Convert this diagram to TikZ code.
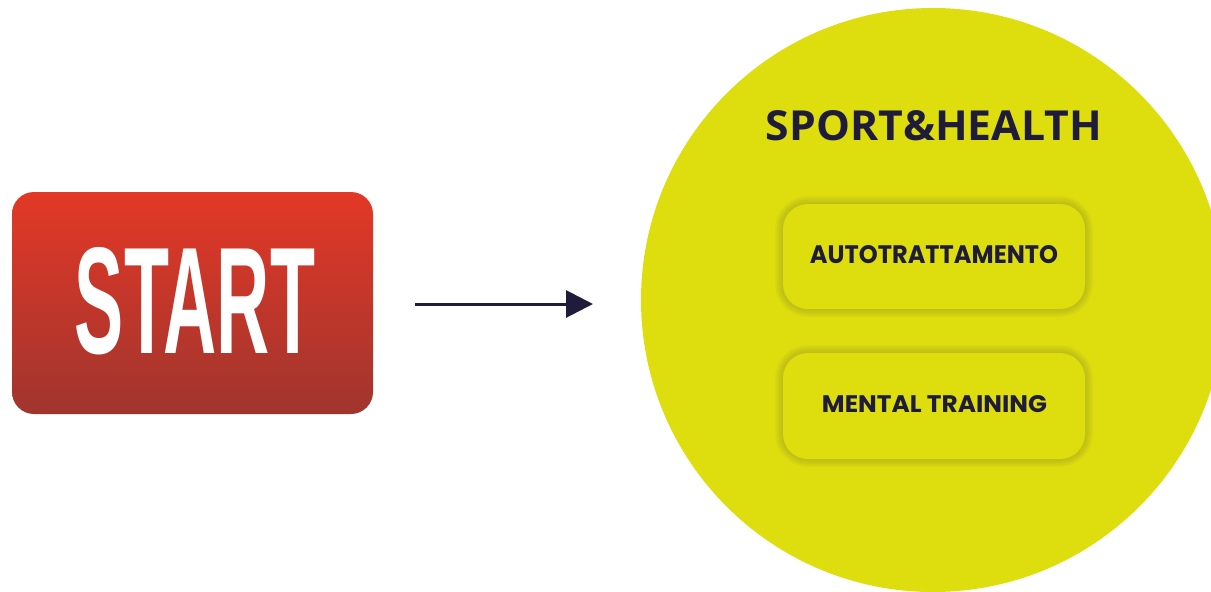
\documentclass[tikz,border=0pt]{standalone}
\usepackage{fontspec}
\setmainfont{Liberation Sans}
\newfontfamily\startfont{Liberation Sans}
\newfontfamily\titlefont{Open Sans}
\newfontfamily\boxfont{Poppins}
\usetikzlibrary{arrows.meta}
\definecolor{startTop}{RGB}{227,56,38}
\definecolor{startBot}{RGB}{160,53,46}
\definecolor{lime}{RGB}{222,221,14}
\definecolor{glowc}{RGB}{150,150,45}
\definecolor{navy}{RGB}{30,27,59}
\tikzset{
  startbox/.style={rectangle, rounded corners=22pt, minimum width=361pt, minimum height=222pt,
    inner sep=0pt, top color=startTop, bottom color=startBot, draw=none},
  bigcircle/.style={circle, fill=lime, minimum size=584pt, inner sep=0pt},
  innerbox/.style={rectangle, rounded corners=25pt, minimum width=302pt, minimum height=105pt,
    inner sep=0pt, fill=lime},
  glow/.style={draw=glowc, opacity=0.06, rounded corners=25pt},
  txt/.style={anchor=base, inner sep=0pt},
  conn/.style={draw=navy, line width=3pt, -{Triangle[length=27pt,width=27pt]}}
}
\begin{document}
\begin{tikzpicture}[x=1pt,y=-1pt]
\useasboundingbox (0,0) rectangle (1211,592);
\fill[white] (0,0) rectangle (1211,592);
\node[startbox] (start) at (192.5,303) {};
\node[txt, text=white] (starttxt) at (195,353) {\resizebox{240pt}{106pt}{\startfont\bfseries START}};
\node[bigcircle] (sh) at (933,300) {};
\node[txt, text=navy] (title) at (934,140) {\resizebox{336pt}{30pt}{\titlefont\bfseries SPORT\&HEALTH}};
\foreach \w in {2,4,...,16} {
  \draw[glow, line width=\w pt] (783,204) rectangle (1085,309);
  \draw[glow, line width=\w pt] (783,353) rectangle (1085,459);
}
\node[innerbox] (auto) at (934,256.5) {};
\node[innerbox, minimum height=106pt] (mental) at (934,406) {};
\node[txt, text=navy] (autotxt) at (934,263) {\resizebox{248pt}{18pt}{\boxfont\bfseries AUTOTRATTAMENTO}};
\node[txt, text=navy] (mentaltxt) at (934.5,412) {\resizebox{225pt}{17pt}{\boxfont\bfseries MENTAL TRAINING}};
\coordinate (a1) at (415,304);
\coordinate (a2) at (593,304);
\draw[conn] (a1) -- (a2);
\end{tikzpicture}
\end{document}
